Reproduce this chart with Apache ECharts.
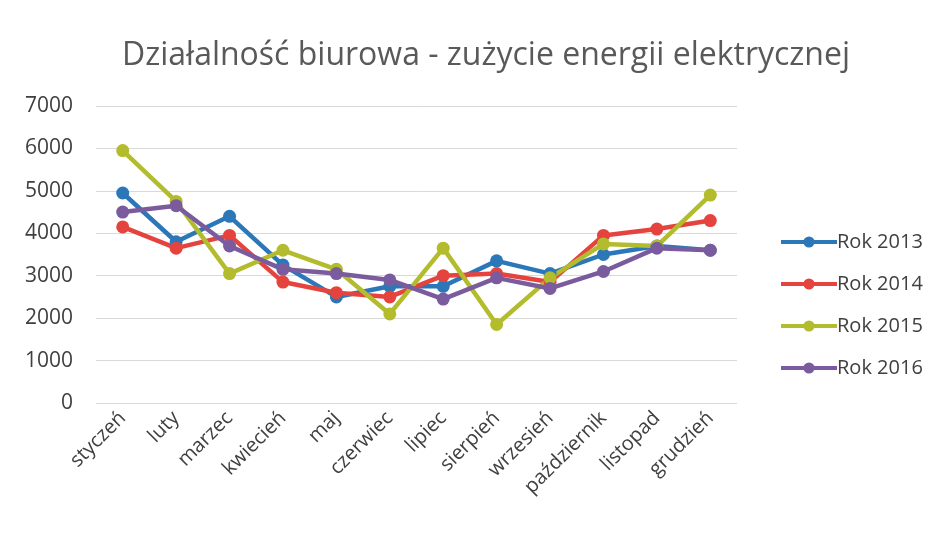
<!DOCTYPE html>
<html><head><meta charset="utf-8">
<script src="https://cdn.jsdelivr.net/npm/echarts@6/dist/echarts.min.js"></script>
<style>html,body{margin:0;padding:0;background:#fff}#c{width:940px;height:533px}</style>
</head><body><div id="c"></div>
<script>
const months = ['styczeń','luty','marzec','kwiecień','maj','czerwiec','lipiec','sierpień','wrzesień','październik','listopad','grudzień'];
const rok2013 = [4950, 3800, 4400, 3250, 2500, 2750, 2750, 3350, 3050, 3500, 3700, 3600];
const rok2014 = [4150, 3650, 3950, 2850, 2600, 2500, 3000, 3050, 2850, 3950, 4100, 4300];
const rok2015 = [5950, 4750, 3050, 3600, 3150, 2100, 3650, 1850, 2950, 3750, 3700, 4900];
const rok2016 = [4500, 4650, 3700, 3150, 3050, 2900, 2450, 2950, 2700, 3100, 3650, 3600];
const yTicks = [0, 1000, 2000, 3000, 4000, 5000, 6000, 7000];

const names = ['Rok 2013','Rok 2014','Rok 2015','Rok 2016'];
const colors = ['#2b77b8','#e5443e','#b3bc2c','#7a5c9e'];
const datas = [rok2013, rok2014, rok2015, rok2016];

const chart = echarts.init(document.getElementById('c'));
chart.setOption({
  backgroundColor: '#fff',
  animation: false,
  title: {
    text: 'Działalność biurowa - zużycie energii elektrycznej',
    left: 481, top: 35, textAlign: 'center',
    textStyle: {fontFamily: 'Open Sans', fontSize: 32, fontWeight: 'normal', color: '#595959'}
  },
  legend: {
    orient: 'vertical', left: 774, top: 227, itemGap: 22,
    itemWidth: 56, itemHeight: 14,
    lineStyle: {width: 4},
    textStyle: {fontFamily: 'Open Sans', fontSize: 20, color: '#404040', padding: [0,0,0,-5]},
    data: names
  },
  grid: {left: 96, right: 203, top: 106, bottom: 130},
  xAxis: {
    type: 'category', data: months, boundaryGap: true,
    axisLine: {show: false}, axisTick: {show: false},
    axisLabel: {rotate: 45, interval: 0, fontFamily: 'Open Sans', fontSize: 20, color: '#404040', margin: 12}
  },
  yAxis: {
    type: 'value', min: 0, max: 7000, interval: 1000,
    axisLine: {show: false}, axisTick: {show: false},
    splitLine: {lineStyle: {color: '#d9d9d9', width: 1}},
    axisLabel: {fontFamily: 'Open Sans', fontSize: 21, color: '#404040', margin: 23,
      customValues: yTicks, formatter: v => String(v)}
  },
  series: datas.map((d, i) => ({
    name: names[i], type: 'line', data: d,
    color: colors[i],
    lineStyle: {width: 4.5, color: colors[i]},
    itemStyle: {color: colors[i]},
    symbol: 'circle', symbolSize: 13, showSymbol: true
  }))
});
</script></body></html>
